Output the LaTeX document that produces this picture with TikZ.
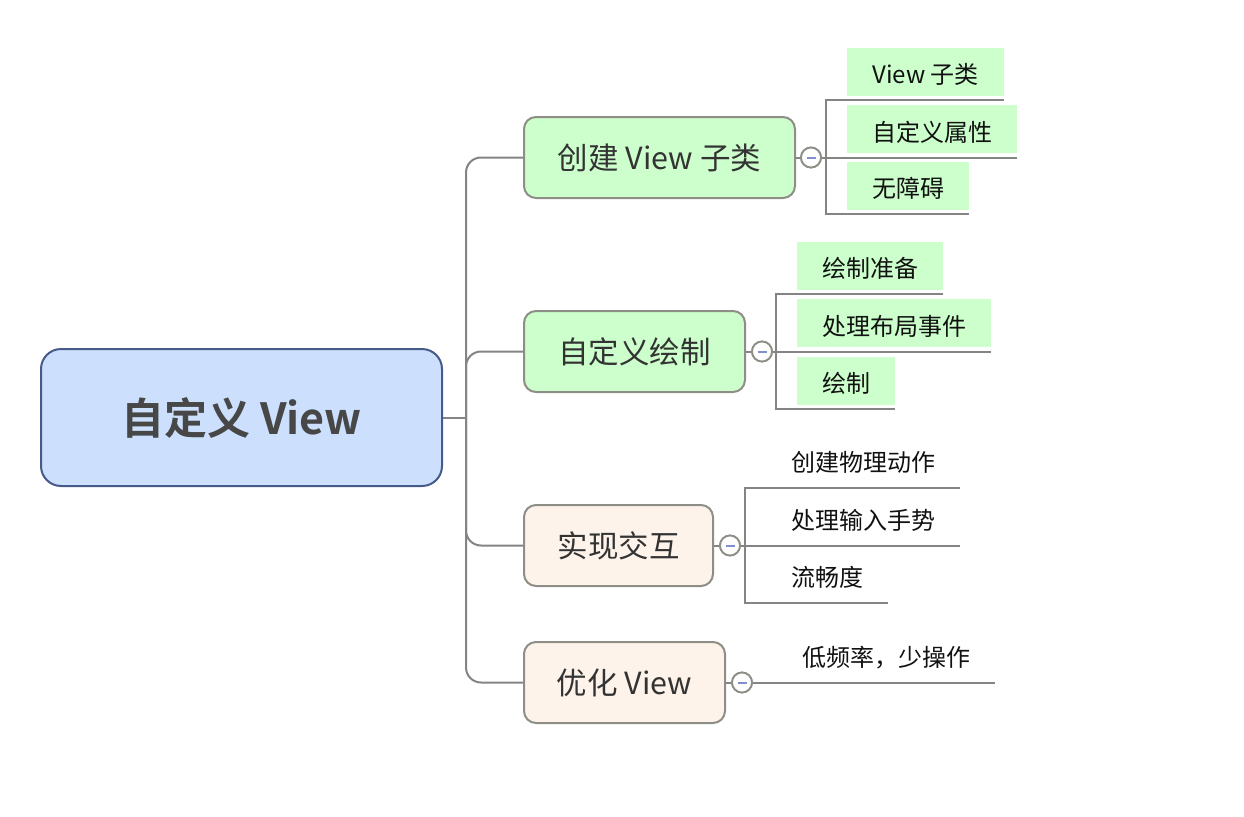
\documentclass[tikz,border=0pt]{standalone}
\usepackage{fontspec}
\setmainfont{Noto Sans CJK SC}[BoldFont={Noto Sans CJK SC Bold}]
\definecolor{rootfill}{HTML}{CCDFFC}
\definecolor{rootdraw}{HTML}{475B8A}
\definecolor{greenfill}{HTML}{CCFFCC}
\definecolor{peachfill}{HTML}{FDF3EA}
\definecolor{boxdraw}{HTML}{8E8E86}
\definecolor{linecol}{HTML}{848484}
\definecolor{txt}{HTML}{333333}
\definecolor{roottxt}{HTML}{474747}
\definecolor{subtxt}{HTML}{111111}
\definecolor{dashcol}{HTML}{8090CC}
\begin{document}
\begin{tikzpicture}[x=1pt,y=-1pt,
  rootbox/.style={draw=rootdraw,line width=2pt,fill=rootfill,rounded corners=20pt,
    minimum width=401pt,minimum height=137pt,text=roottxt,
    font=\fontsize{43}{50}\selectfont\bfseries},
  topicbox/.style={draw=boxdraw,line width=2pt,rounded corners=12pt,
    minimum height=81pt,text=txt,inner sep=0pt,
    font=\fontsize{30.5}{36}\selectfont},
  greentopic/.style={topicbox,fill=greenfill},
  peachtopic/.style={topicbox,fill=peachfill},
  itembox/.style={minimum height=48pt,inner xsep=25pt,inner ysep=0pt,
    text height=24pt,text depth=0pt,
    text=subtxt,anchor=south west,font=\fontsize{24}{28}\selectfont},
  greenitem/.style={itembox,fill=greenfill},
  link/.style={draw=linecol,line width=2pt},
  toggle/.style={circle,draw=boxdraw,line width=1.8pt,fill=white,
    minimum size=20pt,inner sep=0pt},
  minus/.style={draw=dashcol,line width=2pt}
]
\useasboundingbox (0,0) rectangle (1244,816);

% root
\node[rootbox] (root) at (241.5,417.5) {自定义 View};
\coordinate (t) at (466,417.5);

% main topics
\node[greentopic,minimum width=271pt] (n1) at (659.5,157.5) {创建 View 子类};
\node[greentopic,minimum width=221pt] (n2) at (634.5,351.5) {自定义绘制};
\node[peachtopic,minimum width=189pt] (n3) at (618.5,545.5) {实现交互};
\node[peachtopic,minimum width=201pt] (n4) at (624.5,682.5) {优化 View};

% trunk links
\draw[link] (root.east) -- (t);
\draw[link,rounded corners=15pt] (t) |- (n1.west);
\draw[link,rounded corners=15pt] (t) |- (n2.west);
\draw[link,rounded corners=15pt] (t) |- (n3.west);
\draw[link,rounded corners=15pt] (t) |- (n4.west);

% toggles
\node[toggle] (c1) at (811,157.5) {};
\node[toggle] (c2) at (762,351.5) {};
\node[toggle] (c3) at (730,545.5) {};
\node[toggle] (c4) at (742,682.5) {};

% items of n1
\node[greenitem] (i11) at (847,96) {View 子类};
\node[greenitem] (i12) at (847,153.5) {自定义属性};
\node[greenitem] (i13) at (847,210) {无障碍};
\coordinate (b1) at (826,157.5);
% items of n2
\node[greenitem] (i21) at (797,290) {绘制准备};
\node[greenitem] (i22) at (797,347.5) {处理布局事件};
\node[greenitem] (i23) at (797,405) {绘制};
\coordinate (b2) at (776,351.5);
% items of n3
\node[itembox] (i31) at (766,484) {创建物理动作};
\node[itembox] (i32) at (766,541.5) {处理输入手势};
\node[itembox] (i33) at (766,599) {流畅度};
\coordinate (b3) at (745,545.5);
% item of n4
\node[itembox] (i41) at (777,678.5) {低频率，少操作};

% connectors to items
\draw[link] (n1.east) -- (c1.west);
\draw[link] (c1.east) -- ([yshift=-4pt]i12.south east);
\draw[link] ([yshift=-4pt]i11.south east) -| (b1) |- ([yshift=-4pt]i13.south east);

\draw[link] (n2.east) -- (c2.west);
\draw[link] (c2.east) -- ([yshift=-4pt]i22.south east);
\draw[link] ([yshift=-4pt]i21.south east) -| (b2) |- ([yshift=-4pt]i23.south east);

\draw[link] (n3.east) -- (c3.west);
\draw[link] (c3.east) -- ([yshift=-4pt]i32.south east);
\draw[link] ([yshift=-4pt]i31.south east) -| (b3) |- ([yshift=-4pt]i33.south east);

\draw[link] (n4.east) -- (c4.west);
\draw[link] (c4.east) -- ([yshift=-4pt]i41.south east);

% redraw toggles on top
\foreach \c in {c1,c2,c3,c4}{
  \node[toggle] at (\c) {};
  \draw[minus] ([xshift=-4.5pt]\c.center) -- ([xshift=4.5pt]\c.center);
}
\end{tikzpicture}
\end{document}
